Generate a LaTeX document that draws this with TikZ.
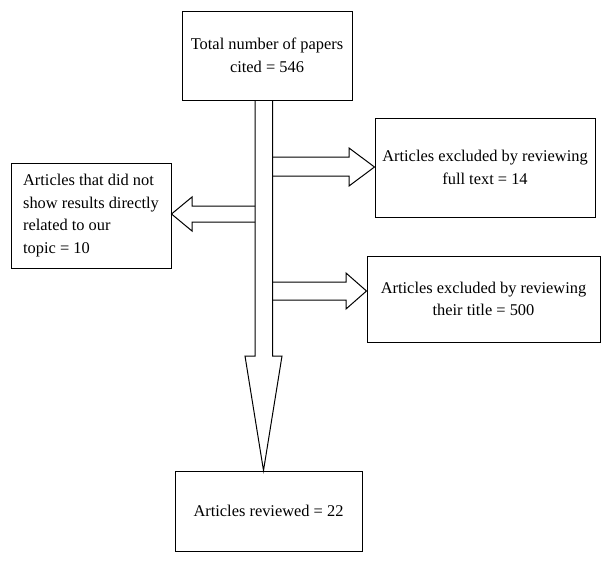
\documentclass[tikz,border=0pt]{standalone}
\usepackage{fontspec}
\setmainfont{Liberation Serif}
\usetikzlibrary{calc}
\begin{document}
\begin{tikzpicture}[x=1pt,y=-1pt,
  box/.style={draw,line width=1pt,inner sep=0pt,font=\fontsize{16.4}{22.5}\selectfont},
  fat/.style={draw,line width=1pt,line join=miter}]
\useasboundingbox (0,0) rectangle (611,562);
\node[box,minimum width=170pt,minimum height=89pt,align=center] (top) at (267,55.5) {Total number of papers\\cited = 546};
\node[box,minimum width=160pt,minimum height=105pt,align=left] (left) at (91,215.5) {Articles that did not\\show results directly\\related to our\\topic = 10};
\node[box,minimum width=220pt,minimum height=99pt,align=center] (r1) at (485,167.5) {Articles excluded by reviewing\\full text = 14};
\node[box,minimum width=233pt,minimum height=86pt,align=center] (r2) at (483.5,299) {Articles excluded by reviewing\\their title = 500};
\node[box,minimum width=187pt,minimum height=80pt,align=center] (bot) at (268.5,511) {Articles reviewed = 22};
% main shaft
\coordinate (sl) at (top.south -| 255,0);
\coordinate (sr) at (top.south -| 272.5,0);
\coordinate (tip) at (263.5,0 |- bot.north);
\draw[fat] (sl) -- (255,356) -- (245,356) -- (tip) -- (282,356) -- (272.5,356) -- (sr);
% left arrow
\coordinate (lt) at (left.east |- 0,214);
\draw[fat] (255,206) -- (192,206) -- (192,197) -- (lt) -- (192,231) -- (192,222) -- (255,222);
% right arrow 1
\coordinate (rt1) at (r1.west |- 0,167);
\draw[fat] (272.5,157) -- (349,157) -- (349,148) -- (rt1) -- (349,186) -- (349,176) -- (272.5,176);
% right arrow 2
\coordinate (rt2) at (r2.west |- 0,291);
\draw[fat] (272.5,282) -- (346,282) -- (346,273) -- (rt2) -- (346,309) -- (346,300) -- (272.5,300);
\end{tikzpicture}
\end{document}
